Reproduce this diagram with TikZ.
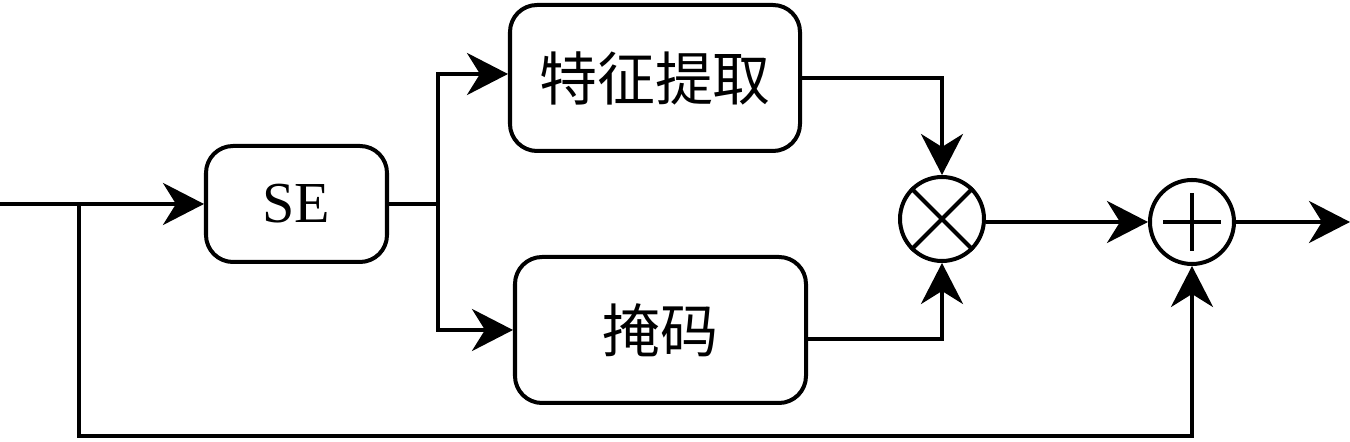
\documentclass[tikz,border=0pt]{standalone}
\usepackage{fontspec}
\setmainfont{Liberation Serif}
\newfontfamily\cjk{Noto Sans CJK SC}
\usetikzlibrary{arrows.meta}

\begin{document}
\begin{tikzpicture}
[line width=1.14pt,every node/.style={draw,rounded corners=0.27cm,inner sep=0pt,font=\fontsize{16.5}{20}\selectfont},
 sum/.style={circle,sharp corners,minimum size=0.84cm},
 arr/.style={-{Stealth[length=4.1mm,width=4.2mm,inset=1.3mm]}}]

  \useasboundingbox (0,0) rectangle (13.5,4.42);

  \node (se) at (2.965,2.38) [minimum width=1.81cm,minimum height=1.16cm] {SE};
  \node (feat) at (6.55,3.64) [minimum width=2.90cm,minimum height=1.46cm] {\cjk 特征提取};
  \node (mask) at (6.605,1.12) [minimum width=2.91cm,minimum height=1.46cm] {\cjk 掩码};
  \node (mul) at (9.42,2.23) [sum] {};
  \node (add) at (11.92,2.20) [sum] {};

  \coordinate (in) at (0,2.38);
  \coordinate (fb) at (0.79,2.38);
  \coordinate (br) at (4.38,2.38);
  \coordinate (fbb) at (0.79,0.06);
  \coordinate (out) at (13.5,2.20);

  \foreach \from/\to in {in/se, add/out}
    \draw[arr] (\from) -- (\to);

  \draw (se) -- (br);
  \draw[arr] (br) |- ([yshift=0.04cm]feat.west);
  \draw[arr] (br) |- (mask.west);
  \draw[arr] (feat) -| (mul);
  \draw[arr] ([yshift=-0.09cm]mask.east) -| (mul);
  \draw[arr] (mul.east |- add.west) -- (add);
  \draw[arr] (fb) -- (fbb) -| (add);

  % signs inside the circles
  \draw (mul.north east) -- (mul.south west) (mul.north west) -- (mul.south east);
  \draw ([xshift=-0.29cm]add.center) -- ([xshift=0.29cm]add.center)
        ([yshift=-0.29cm]add.center) -- ([yshift=0.29cm]add.center);

\end{tikzpicture}
\end{document}
